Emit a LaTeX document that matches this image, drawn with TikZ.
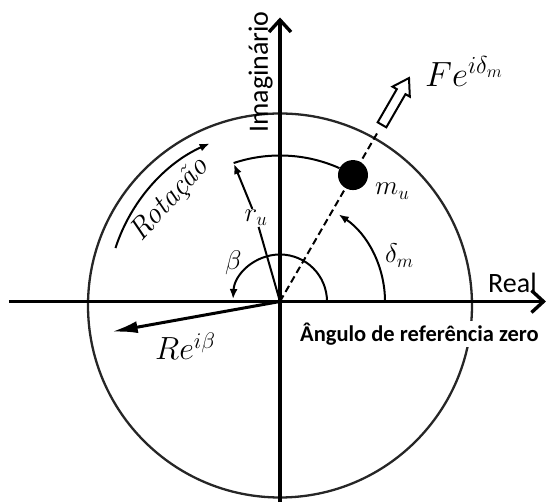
\RequirePackage{fix-cm}
\documentclass[tikz,border=0pt]{standalone}
\usepackage{fontspec}
\setsansfont{Carlito}
\usepackage{amsmath}
\usetikzlibrary{arrows.meta, shapes.arrows, positioning}

\begin{document}
\begin{tikzpicture}[x=1pt, y=1pt,
  axis/.style={line width=3.4pt, -{Straight Barb[length=12pt,width=22pt]}},
  rim/.style={line width=2.3pt, black!85},
  thin/.style={line width=2pt},
  tip/.style={-{Latex[length=10pt,width=8pt]}},
  big/.style={font=\fontsize{32}{36}\selectfont},
  small/.style={font=\fontsize{27}{30}\selectfont},
  lbl/.style={font=\sffamily\fontsize{28}{30}\selectfont}]
  \useasboundingbox (-280,-200.5) rectangle (267,301.5);
  \coordinate (O) at (0,0);
  \coordinate (xl) at (-271,0);
  \coordinate (xr) at (266,0);
  \coordinate (yb) at (0,-201);
  \coordinate (yt) at (0,284);
  \coordinate (rimF) at (60:197pt);
  \coordinate (Rt) at (190.2:171pt);

  \draw[rim] (0,-4) circle (192pt);
  \node[fill=white, anchor=base west, inner sep=2pt, font=\sffamily\bfseries\fontsize{22.5}{25}\selectfont] (zero) at (18,-40) {Ângulo de referência zero};

  \draw[thin, dash pattern=on 7pt off 4pt] (O) -- (rimF);
  \node[circle, fill, minimum size=30pt, inner sep=0pt] (mu) at (60:146pt) {};
  \node[single arrow, draw, thin, fill=white, rotate=60, anchor=tail, minimum height=54pt, inner sep=4pt,
        single arrow head extend=5pt, single arrow tip angle=65] (F) at (60:203pt) {};

  \draw[thin] (66:146pt) arc[start angle=66, end angle=108.5, radius=146pt];
  \node[small, inner sep=1pt] (ru) at (106:87pt) {$r_u$};
  \draw[thin] (O) -- (ru);
  \draw[thin, tip] (ru) -- (108.5:145pt);
  \draw[thin, tip] (105pt,0) arc[start angle=0, end angle=56, radius=105pt];
  \draw[thin, tip] (47pt,0) arc[start angle=0, end angle=177, radius=47pt];
  \draw[thin, tip] (162:173pt) arc[start angle=162, end angle=114, radius=173pt];

  \draw[axis] (xl) -- (xr);
  \draw[axis] (yb) -- (yt);
  \draw[line width=3pt, -{Latex[length=26pt,width=12pt]}] (O) -- (Rt);

  \node[big, font=\fontsize{35}{38}\selectfont, anchor=base west, inner sep=0pt] (Flbl) at (145,215) {$Fe^{i\delta_m}$};
  \node[big, anchor=base west, inner sep=0pt] (Rlbl) at (-125,-58.5) {$Re^{i\beta}$};
  \node[small, anchor=base west, inner sep=0pt] (mlbl) at (95,106.5) {$m_u$};
  \node[small, anchor=base west, inner sep=0pt] (dlbl) at (105,38.5) {$\delta_m$};
  \node[small, anchor=base west, inner sep=0pt] (blbl) at (-55,31.5) {$\beta$};
  \node[lbl, anchor=base west, inner sep=0pt] (real) at (208,8.5) {Real};
  \node[lbl, anchor=base west, inner sep=0pt, rotate=90] (imag) at (-12,168.5) {Imaginário};
  \node[font=\itshape\fontsize{30}{32}\selectfont, rotate=48] (rot) at (-110,101.5) {Rotação};
\end{tikzpicture}
\end{document}
